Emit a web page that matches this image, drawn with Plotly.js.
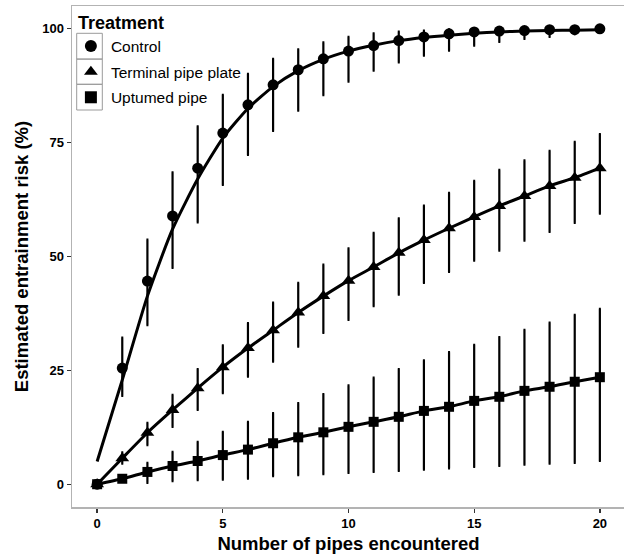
<!DOCTYPE html>
<html>
<head>
<meta charset="utf-8">
<script src="https://cdn.plot.ly/plotly-3.0.1.min.js"></script>
<style>
html, body { margin: 0; padding: 0; overflow: hidden; background: #fff; }
#chart { width: 626px; height: 558px; }
</style>
</head>
<body>
<div id="chart"></div>
<script>
// ---- data ----
var pipes = [0,1,2,3,4,5,6,7,8,9,10,11,12,13,14,15,16,17,18,19,20];

var controlMean = [0, 25.5, 44.6, 58.9, 69.4, 77.1, 83.3, 87.7, 91.0, 93.4, 95.1, 96.3, 97.4, 98.2, 98.9, 99.3, 99.5, 99.6, 99.8, 99.8, 100.0];
var controlLow  = [0, 19.4, 34.9, 47.5, 57.5, 65.7, 72.3, 77.6, 82.0, 85.4, 88.4, 90.8, 92.6, 94.1, 95.2, 96.3, 97.1, 97.8, 98.2, 98.8, 99.5];
var controlHigh = [0, 32.2, 53.7, 68.5, 78.6, 85.5, 90.1, 93.4, 95.5, 97.0, 98.2, 99.0, 99.4, 99.6, 99.9, 99.9, 99.9, 100.0, 100.0, 100.0, 100.0];
var controlFit  = [5.0, 22.9, 41.3, 56.0, 67.0, 76.0, 82.5, 87.3, 90.8, 93.3, 95.1, 96.4, 97.4, 98.1, 98.6, 99.0, 99.3, 99.5, 99.6, 99.7, 99.8];

var terminalMean = [0, 5.7, 11.3, 16.3, 21.1, 25.7, 29.9, 33.8, 37.7, 41.3, 44.7, 47.7, 50.8, 53.6, 56.2, 58.7, 61.1, 63.3, 65.5, 67.3, 69.4];
var terminalLow  = [0, 4.5, 8.6, 12.6, 16.3, 20.0, 23.6, 26.9, 30.2, 33.2, 36.1, 39.1, 41.6, 44.2, 46.6, 49.1, 51.3, 53.5, 55.4, 57.4, 59.4];
var terminalHigh = [0, 7.0, 13.5, 19.6, 25.3, 30.5, 35.4, 39.9, 44.2, 48.2, 51.8, 55.2, 58.4, 61.2, 64.0, 66.6, 69.0, 71.1, 73.2, 75.2, 76.9];

var upturnedMean = [0, 1.2, 2.7, 4.0, 5.1, 6.4, 7.6, 9.0, 10.3, 11.4, 12.6, 13.7, 14.8, 16.1, 17.0, 18.3, 19.2, 20.5, 21.4, 22.5, 23.5];
var upturnedLow  = [0, 0.5, 0.3, 0.7, 0.9, 1.0, 1.2, 1.8, 2.0, 2.2, 2.5, 2.7, 2.9, 3.2, 3.5, 3.8, 4.0, 4.3, 4.5, 4.7, 5.1];
var upturnedHigh = [0, 2.0, 4.7, 7.1, 9.3, 11.5, 13.7, 15.6, 17.8, 19.8, 21.7, 23.4, 25.3, 27.2, 29.0, 30.6, 32.3, 33.9, 35.5, 37.2, 38.5];

var treatmentNames = ["Control", "Terminal pipe plate", "Uptumed pipe"];
var xTicks = [0, 5, 10, 15, 20];
var yTicks = [0, 25, 50, 75, 100];

// ---- helpers ----
function diff(a, b) { return a.map(function (v, i) { return v - b[i]; }); }

var FONT = "Liberation Sans, Arial, Helvetica, sans-serif";

function lineTrace(y) {
  return {
    x: pipes, y: y, type: "scatter", mode: "lines",
    line: { color: "#000", width: 3, shape: "spline", smoothing: 0.6 },
    showlegend: false, hoverinfo: "skip"
  };
}
function pointTrace(name, symbol, size, mean, low, high, group) {
  return {
    x: pipes, y: mean, type: "scatter", mode: "markers", name: name,
    legendgroup: group,
    marker: { symbol: symbol, size: size, color: "#000" },
    error_y: {
      type: "data", symmetric: false,
      array: diff(high, mean), arrayminus: diff(mean, low),
      color: "#000", thickness: 2.2, width: 1
    }
  };
}

var traces = [
  lineTrace(controlFit),
  lineTrace(terminalMean),
  lineTrace(upturnedMean),
  pointTrace(treatmentNames[0], "circle", 11, controlMean, controlLow, controlHigh, "a"),
  pointTrace(treatmentNames[1], "triangle-up", 12, terminalMean, terminalLow, terminalHigh, "b"),
  pointTrace(treatmentNames[2], "square", 10, upturnedMean, upturnedLow, upturnedHigh, "c")
];

var keyShapes = [];
var keyTops = [0.9455, 0.894, 0.8437];
var keyBottoms = [0.894, 0.8437, 0.7924];
for (var i = 0; i < 3; i++) {
  keyShapes.push({
    type: "rect", xref: "paper", yref: "paper",
    x0: 0.0085, x1: 0.0548, y0: keyBottoms[i], y1: keyTops[i],
    line: { color: "#9a9a9a", width: 1 }, fillcolor: "rgba(0,0,0,0)", layer: "below"
  });
}

var layout = {
  width: 626, height: 558,
  margin: { l: 72, r: 1, t: 6, b: 51 },
  paper_bgcolor: "#fff", plot_bgcolor: "#fff",
  font: { family: FONT, color: "#000" },
  showlegend: true,
  legend: {
    x: -0.002, y: 1.0, xanchor: "left", yanchor: "top",
    bgcolor: "rgba(0,0,0,0)", borderwidth: 0,
    traceorder: "grouped", tracegroupgap: 2.5,
    font: { family: FONT, size: 15.5, color: "#000" },
    title: { text: "&nbsp;<b>Treatment</b>", font: { family: FONT, size: 18, color: "#000" } },
    itemsizing: "constant"
  },
  xaxis: {
    range: [-1, 21], tickvals: xTicks, ticktext: xTicks.map(String),
    showgrid: false, zeroline: false,
    showline: true, mirror: true, linecolor: "#b3b3b3", linewidth: 1.5,
    ticks: "outside", ticklen: 4, tickwidth: 1.3, tickcolor: "#333",
    tickfont: { family: FONT, size: 13, color: "#000", weight: "bold" },
    title: { text: "<b>Number of pipes encountered</b>", font: { family: FONT, size: 18.5, color: "#000" }, standoff: 7 }
  },
  yaxis: {
    range: [-5, 105], tickvals: yTicks, ticktext: yTicks.map(String),
    showgrid: false, zeroline: false,
    showline: true, mirror: true, linecolor: "#b3b3b3", linewidth: 1.5,
    ticks: "outside", ticklen: 4, tickwidth: 1.3, tickcolor: "#333",
    tickfont: { family: FONT, size: 13, color: "#000", weight: "bold" },
    title: { text: "<b>Estimated entrainment risk (%)</b>", font: { family: FONT, size: 18.5, color: "#000" }, standoff: 8 }
  },
  shapes: keyShapes
};

Plotly.newPlot("chart", traces, layout, { displayModeBar: false, staticPlot: true });
</script>
</body>
</html>
